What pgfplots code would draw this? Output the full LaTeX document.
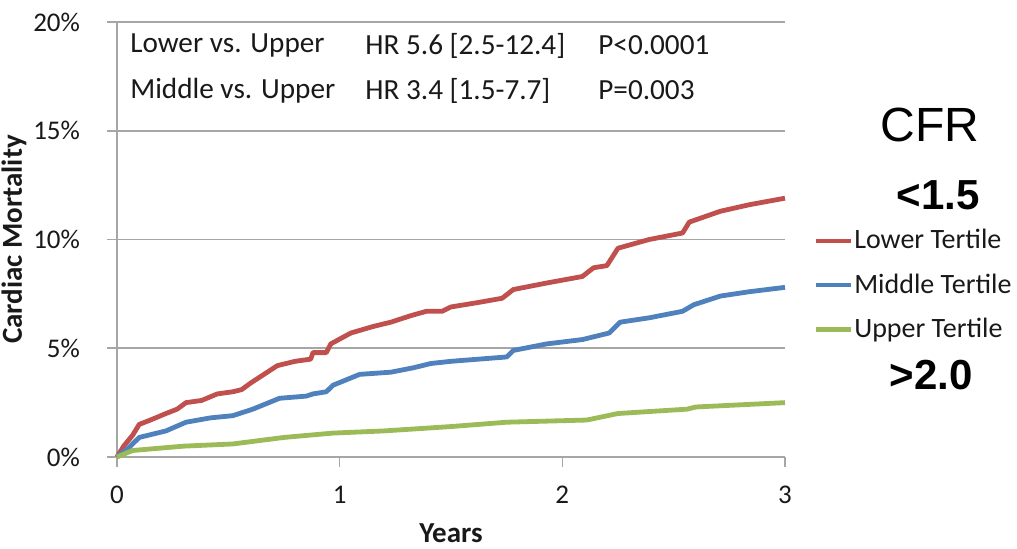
\documentclass[border=0pt]{standalone}
\usepackage{pgfplots}
\pgfplotsset{compat=1.18}
\usepackage{fontspec}
\setmainfont{Carlito}
\newfontfamily\arialfont{Liberation Sans}

\definecolor{lowred}{HTML}{C0504D}
\definecolor{midblue}{HTML}{4F81BD}
\definecolor{upgreen}{HTML}{9BBB59}
\definecolor{gridgray}{HTML}{A6A6A6}

\begin{document}
\begin{tikzpicture}
\path[use as bounding box] (-58.5pt,-45.5pt) rectangle (450pt,228.5pt);
\begin{axis}[
  scale only axis,
  width=334pt, height=217.5pt,
  xmin=0, xmax=3, ymin=0, ymax=20,
  clip=false,
  axis lines=left,
  axis line style={-, draw=gridgray, line width=0.8pt},
  xtick={0,1,2,3}, xticklabels={0,1,2,3},
  ytick={0,5,10,15,20}, yticklabels={0\%,5\%,10\%,15\%,20\%},
  ymajorgrids,
  grid style={gridgray, line width=0.8pt},
  tick style={gridgray, line width=0.8pt},
  tick align=outside,
  major tick length=5pt,
  ticklabel style={font=\fontsize{13.5}{15}\selectfont, text=black!90},
  yticklabel style={xshift=-10pt},
  xticklabel style={yshift=-6pt},
  /pgf/number format/assume math mode=true,
  xlabel={\textbf{Years}},
  ylabel={\textbf{Cardiac Mortality}},
  label style={font=\fontsize{14.5}{16}\selectfont, text=black!90},
  xlabel style={yshift=-3pt},
  ylabel style={yshift=-3.5pt},
  legend style={at={(axis cs:3.128,10.66)}, anchor=north west, draw=none, fill=none,
    font=\fontsize{14}{15}\selectfont, text=black!90,
    row sep=7pt, column sep=0pt, inner sep=0pt,
    nodes={inner xsep=0.5pt}},
  legend cell align=left,
  legend image code/.code={\draw[#1, line width=2.2pt] (0pt,0pt) -- (17.5pt,0pt);},
]
% Lower tertile
\addplot[lowred, line width=2.4pt, line join=round] coordinates {
(0,0) (0.03,0.5) (0.07,1.0) (0.10,1.5) (0.15,1.7) (0.22,2.0) (0.27,2.2)
(0.31,2.5) (0.38,2.6) (0.45,2.9) (0.52,3.0) (0.56,3.1) (0.60,3.4) (0.66,3.8)
(0.72,4.2) (0.80,4.4) (0.87,4.5) (0.88,4.8) (0.94,4.8) (0.96,5.2) (1.05,5.7)
(1.15,6.0) (1.23,6.2) (1.32,6.5) (1.39,6.7) (1.46,6.7) (1.50,6.9) (1.62,7.1)
(1.73,7.3) (1.78,7.7) (1.93,8.0) (2.09,8.3) (2.14,8.7) (2.20,8.8) (2.25,9.6)
(2.39,10.0) (2.54,10.3) (2.57,10.8) (2.71,11.3) (2.84,11.6) (3.00,11.9)
};
\addlegendentry{Lower Tertile}
% Middle tertile
\addplot[midblue, line width=2.4pt, line join=round] coordinates {
(0,0) (0.05,0.4) (0.10,0.9) (0.22,1.2) (0.31,1.6) (0.42,1.8) (0.52,1.9)
(0.61,2.2) (0.73,2.7) (0.85,2.8) (0.88,2.9) (0.94,3.0) (0.97,3.3) (1.09,3.8)
(1.23,3.9) (1.33,4.1) (1.41,4.3) (1.50,4.4) (1.75,4.6) (1.78,4.9) (1.93,5.2)
(2.09,5.4) (2.21,5.7) (2.26,6.2) (2.39,6.4) (2.54,6.7) (2.59,7.0) (2.71,7.4)
(2.84,7.6) (3.00,7.8)
};
\addlegendentry{Middle Tertile}
% Upper tertile
\addplot[upgreen, line width=2.4pt, line join=round] coordinates {
(0,0) (0.07,0.3) (0.30,0.5) (0.52,0.6) (0.75,0.9) (0.97,1.1) (1.20,1.2)
(1.50,1.4) (1.75,1.6) (2.11,1.7) (2.25,2.0) (2.56,2.2) (2.60,2.3) (3.00,2.5)
};
\addlegendentry{Upper Tertile}

% hazard ratio table
\begin{scope}[every node/.style={anchor=west, font=\fontsize{14.6}{16}\selectfont, text=black!90, inner sep=0pt}]
\node at (axis cs:0.058,18.92) {Lower vs. Upper};
\node at (axis cs:1.114,18.92) {HR 5.6 [2.5-12.4]};
\node at (axis cs:2.16,18.92) {P<0.0001};
\node at (axis cs:0.058,16.85) {Middle vs. Upper};
\node at (axis cs:1.114,16.85) {HR 3.4 [1.5-7.7]};
\node at (axis cs:2.16,16.85) {P=0.003};
\end{scope}

% CFR groups
\node[font=\arialfont\fontsize{24}{28}\selectfont] at (axis cs:3.651,15.26) {CFR};
\node[font=\arialfont\bfseries\fontsize{21}{24}\selectfont] at (axis cs:3.687,12.05) {<1.5};
\node[font=\arialfont\bfseries\fontsize{21}{24}\selectfont] at (axis cs:3.656,3.77) {>2.0};
\end{axis}
\end{tikzpicture}
\end{document}
